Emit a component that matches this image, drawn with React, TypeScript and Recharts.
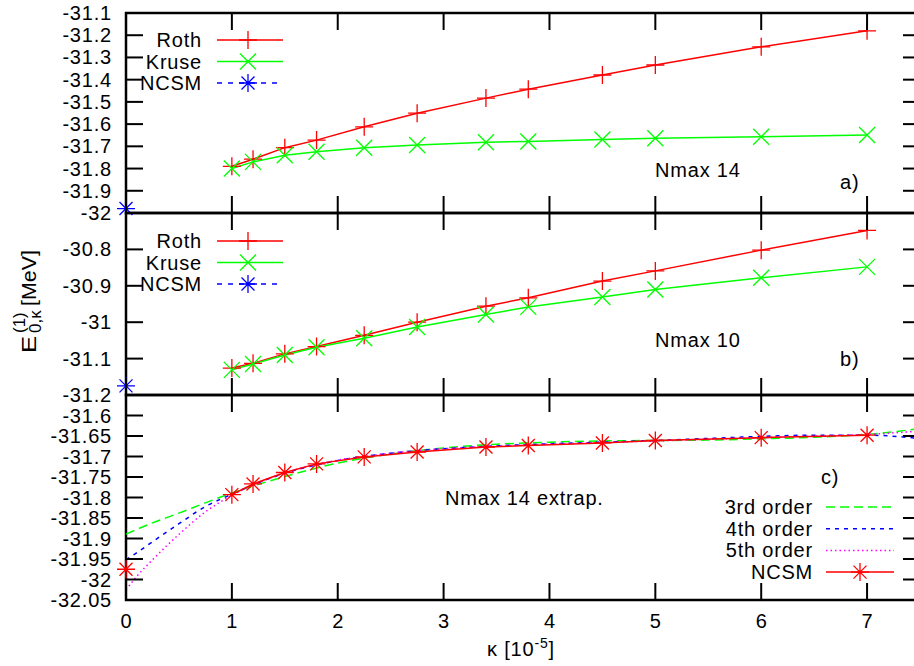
import React from "react";
import { LineChart, Line, XAxis, YAxis, ReferenceArea, Legend } from "recharts";

// kappa values (units of 1e-5) of the computed points
const kappa = [1, 1.2, 1.5, 1.8, 2.25, 2.75, 3.4, 3.8, 4.5, 5, 6, 7];

// a) Nmax 14
const rothA = [-31.79, -31.758, -31.706, -31.672, -31.612, -31.551, -31.483, -31.443, -31.379, -31.334, -31.252, -31.18];
const kruseA = [-31.8, -31.77, -31.74, -31.724, -31.706, -31.694, -31.682, -31.678, -31.669, -31.664, -31.657, -31.649];
const ncsmA = -31.98;

// b) Nmax 10
const rothB = [-31.126, -31.113, -31.087, -31.067, -31.036, -31.0, -30.956, -30.933, -30.887, -30.859, -30.802, -30.748];
const kruseB = [-31.131, -31.115, -31.09, -31.069, -31.044, -31.013, -30.979, -30.958, -30.931, -30.91, -30.878, -30.848];
const ncsmB = -31.175;

// c) Nmax 14 extrapolation
const ncsmC = [-31.793, -31.767, -31.739, -31.718, -31.701, -31.689, -31.677, -31.673, -31.667, -31.661, -31.654, -31.648];
const ncsmC0 = -31.975;
const fitKappa = [0, 0.1, 0.25, 0.5, 0.75, 1, 1.25, 1.5, 2, 2.5, 3, 3.5, 4, 4.5, 5, 5.5, 6, 6.5, 7, 7.5];
const fit3 = [-31.889, -31.878, -31.862, -31.838, -31.813, -31.789, -31.768, -31.749, -31.716, -31.694, -31.679, -31.67, -31.665, -31.662, -31.661, -31.66, -31.657, -31.653, -31.646, -31.632];
const fit4 = [-31.952, -31.935, -31.908, -31.864, -31.822, -31.792, -31.764, -31.741, -31.71, -31.692, -31.681, -31.674, -31.669, -31.665, -31.661, -31.656, -31.651, -31.648, -31.648, -31.656];
const fit5 = [-32.025, -31.993, -31.952, -31.89, -31.835, -31.795, -31.764, -31.74, -31.709, -31.692, -31.681, -31.675, -31.67, -31.666, -31.662, -31.658, -31.654, -31.65, -31.646, -31.638];

const xTicks = [0, 1, 2, 3, 4, 5, 6, 7];
const yTicksA = [-32, -31.9, -31.8, -31.7, -31.6, -31.5, -31.4, -31.3, -31.2, -31.1];
const yTicksB = [-31.2, -31.1, -31, -30.9, -30.8];
const yTicksC = [-32.05, -32, -31.95, -31.9, -31.85, -31.8, -31.75, -31.7, -31.65, -31.6];

const rows = (xs: number[], ys: number[], key: string) => xs.map((k, i) => ({ k, [key]: ys[i] }));

const RED = "#ff0000";
const GREEN = "#00ff00";
const BLUE = "#0000ff";
const MAGENTA = "#ff00ff";
const FONT = "'Liberation Sans', Arial, Helvetica, sans-serif";
const FS = 20;
const LS = 0.8;

// plot box (page pixels)
const PL = 126;
const PR = 920;
const TICK = 17;
const CW = 940;
const CH = 666;

type Mark = "plus" | "cross" | "star" | "none";

function markPath(m: Mark, cx: number, cy: number) {
  const p = `M${cx - 9},${cy}h18M${cx},${cy - 9}v18`;
  const x = `M${cx - 8},${cy - 8}l16,16M${cx + 8},${cy - 8}l-16,16`;
  const s = `M${cx - 6.5},${cy - 6.5}l13,13M${cx + 6.5},${cy - 6.5}l-13,13`;
  if (m === "plus") return p;
  if (m === "cross") return x;
  if (m === "star") return p + s;
  return "";
}

const dotOf = (m: Mark, color: string) => (props: any) => {
  const { cx, cy, index } = props;
  if (cx == null || cy == null) return <g key={`d${index}`} />;
  return <path key={`d${index}`} d={markPath(m, cx, cy)} stroke={color} strokeWidth={1.3} fill="none" />;
};

// legend look and order per dataKey
const legendStyle: Record<string, { mark: Mark; dash?: string; order: number }> = {
  roth: { mark: "plus", order: 0 },
  kruse: { mark: "cross", order: 1 },
  ncsm: { mark: "star", dash: "5 6", order: 2 },
  f3: { mark: "none", dash: "9 5", order: 0 },
  f4: { mark: "none", dash: "4 5", order: 1 },
  f5: { mark: "none", dash: "1.5 3", order: 2 },
  ncsmc: { mark: "star", order: 3 },
};

const makeLegend = (textRight: number, lineL: number, lineR: number, markX: number, rowH: number) => (props: any) => {
  const items = ((props.payload || []) as any[])
    .filter((it) => legendStyle[String(it.dataKey)])
    .sort((a, b) => legendStyle[String(a.dataKey)].order - legendStyle[String(b.dataKey)].order);
  return (
    <svg width={240} height={rowH * items.length + 10} style={{ overflow: "visible", fontFamily: FONT }}>
      {items.map((it, i) => {
        const st = legendStyle[String(it.dataKey)];
        const y = 12 + i * rowH;
        return (
          <g key={i}>
            <text x={textRight} y={y} dy="0.35em" textAnchor="end" fontSize={FS} letterSpacing={LS} fill="#000">
              {it.value}
            </text>
            <line x1={lineL} x2={lineR} y1={y} y2={y} stroke={it.color} strokeWidth={1.5} strokeDasharray={st.dash} />
            {st.mark !== "none" && <path d={markPath(st.mark, markX, y)} stroke={it.color} strokeWidth={1.3} fill="none" />}
          </g>
        );
      })}
    </svg>
  );
};

const yTick = (props: any) => {
  const { y, payload } = props;
  return (
    <g>
      <line x1={PL} x2={PL + TICK} y1={y} y2={y} stroke="#000" strokeWidth={2} />
      <line x1={PR - TICK} x2={PR} y1={y} y2={y} stroke="#000" strokeWidth={2} />
      <text x={PL - 14} y={y} dy="0.35em" textAnchor="end" fontSize={FS} letterSpacing={LS} fill="#000" fontFamily={FONT}>
        {String(payload.value)}
      </text>
    </g>
  );
};

const makeXTick = (top: number, bottom: number, labels: boolean) => (props: any) => {
  const { x, payload } = props;
  return (
    <g>
      <line x1={x} x2={x} y1={top} y2={top + TICK} stroke="#000" strokeWidth={2} />
      <line x1={x} x2={x} y1={bottom - TICK} y2={bottom} stroke="#000" strokeWidth={2} />
      {labels && (
        <text x={x} y={bottom + 21} dy="0.35em" textAnchor="middle" fontSize={FS} fill="#000" fontFamily={FONT}>
          {String(payload.value)}
        </text>
      )}
    </g>
  );
};

const xAxisProps = (top: number, bottom: number, labels: boolean) => ({
  type: "number" as const,
  dataKey: "k",
  domain: [0, 7.5],
  ticks: xTicks,
  interval: 0 as const,
  height: 30,
  axisLine: false,
  tickLine: false,
  tick: makeXTick(top, bottom, labels),
});

const yAxisProps = (domain: number[], ticks: number[]) => ({
  type: "number" as const,
  domain,
  ticks,
  interval: 0 as const,
  width: 60,
  axisLine: false,
  tickLine: false,
  tick: yTick,
});

const abs = (z: number): React.CSSProperties => ({ position: "absolute", left: 0, top: 0, zIndex: z });

export default function App() {
  return (
    <div
      style={{
        position: "fixed",
        left: 0,
        top: 0,
        width: 914,
        height: 666,
        overflow: "hidden",
        background: "#fff",
        fontFamily: FONT,
      }}
    >
      {/* a) Nmax 14 */}
      <div style={abs(1)}>
        <LineChart width={CW} height={CH} margin={{ top: 13, right: 20, bottom: 423, left: 66 }}>
          <XAxis {...xAxisProps(13, 213, false)} />
          <YAxis {...yAxisProps([-32, -31.1], yTicksA)} />
          <ReferenceArea x1={0} x2={7.5} y1={-32} y2={-31.1} fill="none" stroke="#000" strokeWidth={2.5} fillOpacity={0} />
          <Line data={rows(kappa, rothA, "roth")} dataKey="roth" name="Roth" stroke={RED} strokeWidth={1.5} dot={dotOf("plus", RED)} isAnimationActive={false} />
          <Line data={rows(kappa, kruseA, "kruse")} dataKey="kruse" name="Kruse" stroke={GREEN} strokeWidth={1.5} dot={dotOf("cross", GREEN)} isAnimationActive={false} />
          <Line data={[{ k: 0, ncsm: ncsmA }]} dataKey="ncsm" name="NCSM" stroke={BLUE} strokeWidth={1.5} strokeDasharray="5 6" dot={dotOf("star", BLUE)} isAnimationActive={false} />
          <Legend
            layout="vertical"
            verticalAlign="middle"
            align="center"
            content={makeLegend(142, 157, 223, 188, 21.5)}
            wrapperStyle={{ left: 60, top: 28, width: 240, height: 75 }}
          />
        </LineChart>
      </div>

      {/* b) Nmax 10 */}
      <div style={abs(2)}>
        <LineChart width={CW} height={CH} margin={{ top: 213, right: 20, bottom: 241, left: 66 }}>
          <XAxis {...xAxisProps(213, 395, false)} />
          <YAxis {...yAxisProps([-31.2, -30.7], yTicksB)} />
          <ReferenceArea x1={0} x2={7.5} y1={-31.2} y2={-30.7} fill="none" stroke="#000" strokeWidth={2.5} fillOpacity={0} />
          <Line data={rows(kappa, rothB, "roth")} dataKey="roth" name="Roth" stroke={RED} strokeWidth={1.5} dot={dotOf("plus", RED)} isAnimationActive={false} />
          <Line data={rows(kappa, kruseB, "kruse")} dataKey="kruse" name="Kruse" stroke={GREEN} strokeWidth={1.5} dot={dotOf("cross", GREEN)} isAnimationActive={false} />
          <Line data={[{ k: 0, ncsm: ncsmB }]} dataKey="ncsm" name="NCSM" stroke={BLUE} strokeWidth={1.5} strokeDasharray="5 6" dot={dotOf("star", BLUE)} isAnimationActive={false} />
          <Legend
            layout="vertical"
            verticalAlign="middle"
            align="center"
            content={makeLegend(142, 157, 223, 188, 21.5)}
            wrapperStyle={{ left: 60, top: 229, width: 240, height: 75 }}
          />
        </LineChart>
      </div>

      {/* c) Nmax 14 extrapolated */}
      <div style={abs(3)}>
        <LineChart width={CW} height={CH} margin={{ top: 395, right: 20, bottom: 36, left: 66 }}>
          <XAxis {...xAxisProps(395, 600, true)} />
          <YAxis {...yAxisProps([-32.05, -31.55], yTicksC)} />
          <ReferenceArea x1={0} x2={7.5} y1={-32.05} y2={-31.55} fill="none" stroke="#000" strokeWidth={2.5} fillOpacity={0} />
          <Line data={rows(fitKappa, fit3, "f3")} dataKey="f3" name="3rd order" type="monotone" stroke={GREEN} strokeWidth={1.5} strokeDasharray="9 5" dot={false} isAnimationActive={false} />
          <Line data={rows(fitKappa, fit4, "f4")} dataKey="f4" name="4th order" type="monotone" stroke={BLUE} strokeWidth={1.5} strokeDasharray="4 5" dot={false} isAnimationActive={false} />
          <Line data={rows(fitKappa, fit5, "f5")} dataKey="f5" name="5th order" type="monotone" stroke={MAGENTA} strokeWidth={1.5} strokeDasharray="1.5 3" dot={false} isAnimationActive={false} />
          <Line data={rows(kappa, ncsmC, "ncsmc")} dataKey="ncsmc" name="NCSM" stroke={RED} strokeWidth={1.5} dot={dotOf("star", RED)} isAnimationActive={false} />
          <Line data={[{ k: 0, ncsm0: ncsmC0 }]} dataKey="ncsm0" legendType="none" stroke={RED} dot={dotOf("star", RED)} isAnimationActive={false} />
          <Legend
            layout="vertical"
            verticalAlign="middle"
            align="center"
            content={makeLegend(113, 126, 194, 160, 21.7)}
            wrapperStyle={{ left: 700, top: 495, width: 240, height: 95 }}
          />
        </LineChart>
      </div>

      {/* titles and panel notes */}
      <svg width={914} height={666} style={{ ...abs(4), pointerEvents: "none", fontFamily: FONT }}>
        <g fontSize={FS} fill="#000" letterSpacing={LS}>
          <text x={655} y={170} dy="0.35em">Nmax 14</text>
          <text x={840} y={182} dy="0.35em">a)</text>
          <text x={655} y={340} dy="0.35em">Nmax 10</text>
          <text x={840} y={359} dy="0.35em">b)</text>
          <text x={821} y={477} dy="0.35em">c)</text>
          <text x={445} y={498} dy="0.35em">Nmax 14 extrap.</text>
          <text x={521} y={656} textAnchor="middle">
            κ [10<tspan fontSize={14} dy={-8}>-5</tspan><tspan dy={8}>]</tspan>
          </text>
          <g transform="translate(36,353) rotate(-90)" letterSpacing={0}>
            <text x={0} y={0} textLength={17} lengthAdjust="spacingAndGlyphs">E</text>
            <text x={20} y={-11} fontSize={17}>(1)</text>
            <text x={20} y={5} fontSize={17}>0,κ</text>
            <text x={47} y={0} textLength={56} lengthAdjust="spacingAndGlyphs">[MeV]</text>
          </g>
        </g>
      </svg>
    </div>
  );
}
